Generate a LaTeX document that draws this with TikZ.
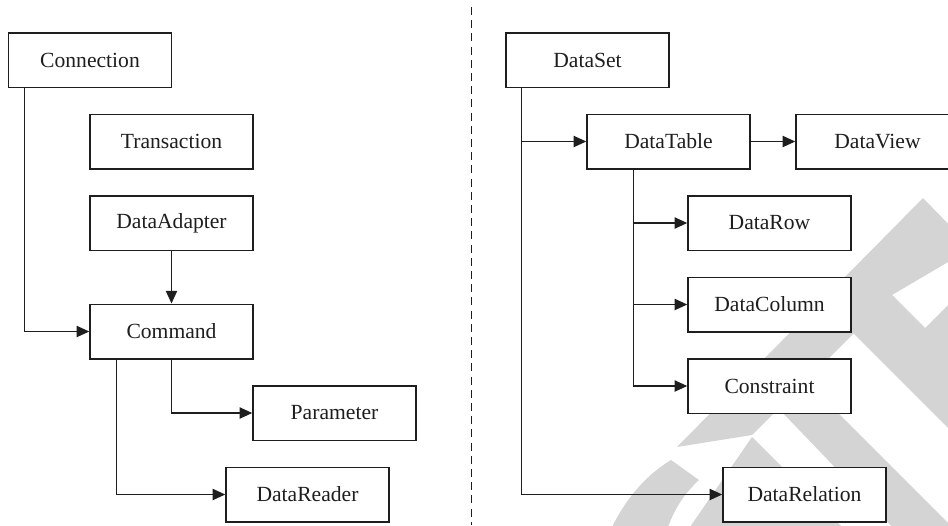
\documentclass[tikz,border=0pt]{standalone}
\usepackage{fontspec}
\setmainfont{Liberation Serif}
\usetikzlibrary{arrows.meta}
\definecolor{wmgray}{RGB}{212,212,212}
\definecolor{inkc}{RGB}{30,30,30}
\begin{document}
\begin{tikzpicture}[x=0.5pt,y=-0.5pt,
  box/.style={draw=inkc, line width=0.75pt, fill=white, minimum width=81.5pt, minimum height=27.25pt, inner sep=0pt, text=inkc, font=\fontsize{10.8}{13}\selectfont},
  arr/.style={draw=inkc, line width=0.7pt, -{Triangle[length=6.3pt,width=5.6pt]}},
  wm/.style={fill=wmgray, draw=none},
  sep/.style={draw=inkc, line width=0.5pt, dash pattern=on 4pt off 2.6pt}]
\useasboundingbox (0,0) rectangle (948,525);
% watermark
\fill[wm] (677,447) -- (923,198) -- (960,236) -- (960,255) -- (892,295) -- (752,435) -- cycle;
\fill[wm] (892,295) -- (925,328) -- (960,293) -- (960,440) -- (852,332) -- cycle;
\fill[wm] (778.5,408.5) -- (806,381) -- (960,535) -- (900,535) -- cycle;
\fill[wm] (752,437) -- (842,527) -- (690,527) -- cycle;
\fill[wm] (612,527) .. controls (628,495) and (648,474) .. (671,460) -- (699,480) .. controls (684,494) and (675,508) .. (668,527) -- cycle;
% separator
\coordinate (dtop) at (471,7);
\coordinate (dbot) at (471,525);
\draw[sep] (dtop) -- (dbot);
% left nodes
\node[box] (conn) at (90,60) {Connection};
\node[box] (trans) at (171.5,141.5) {Transaction};
\node[box] (adp) at (171.5,223) {DataAdapter};
\node[box] (cmd) at (171.5,331.5) {Command};
\node[box] (par) at (334.5,413) {Parameter};
\node[box] (rdr) at (307.5,494.5) {DataReader};
% right nodes
\node[box] (dset) at (587.5,60) {DataSet};
\node[box] (dtab) at (668.5,141.5) {DataTable};
\node[box] (dview) at (877.5,141.5) {DataView};
\node[box] (drow) at (769.5,223) {DataRow};
\node[box] (dcol) at (769.5,304.5) {DataColumn};
\node[box] (cons) at (769.5,386) {Constraint};
\node[box] (drel) at (804.5,494.5) {DataRelation};
% left connectors
\draw[arr] ([xshift=8.5pt]conn.south west) |- (cmd.west);
\draw[arr] (adp.south) -- (cmd.north);
\draw[arr] (cmd.south) |- (par.west);
\draw[arr] ([xshift=13.5pt]cmd.south west) |- (rdr.west);
% right connectors
\coordinate (dst) at ([xshift=8pt]dset.south west);
\draw[arr] (dst) |- (drel.west);
\draw[arr] (dst |- dtab.west) -- (dtab.west);
\coordinate (dtt) at ([xshift=23.5pt]dtab.south west);
\draw[arr] (dtt) |- (cons.west);
\draw[arr] (dtt |- drow.west) -- (drow.west);
\draw[arr] (dtt |- dcol.west) -- (dcol.west);
\draw[arr] (dtab.east) -- (dview.west);
\end{tikzpicture}
\end{document}
